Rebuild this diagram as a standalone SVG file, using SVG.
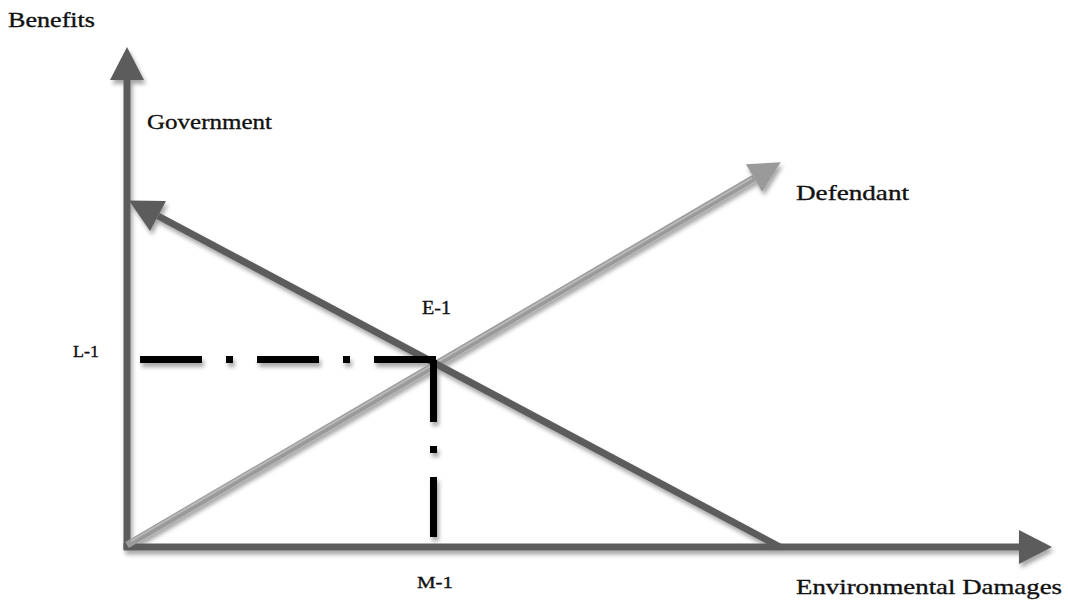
<svg xmlns="http://www.w3.org/2000/svg" width="1068" height="601" viewBox="0 0 1068 601">
  <style>
    .lbl { font-family: "Liberation Serif", "DejaVu Serif", serif; fill: #111; stroke: #111; stroke-width: 0.35; }
    .axis { stroke: #5c5c5c; stroke-width: 7; fill: none; }
    .gov { stroke: #5c5c5c; stroke-width: 7; fill: none; }
    .def { stroke: #9a9a9a; stroke-width: 7; fill: none; }
    .def-hi { stroke: #b9b9b9; stroke-width: 2; fill: none; }
    .guide { stroke: #000; stroke-width: 7; fill: none; stroke-dasharray: 62 24 7 24; }
  </style>
  <defs>
    <filter id="shadow" x="-10%" y="-10%" width="120%" height="130%">
      <feDropShadow dx="2" dy="4" stdDeviation="2" flood-color="#000" flood-opacity="0.35"/>
    </filter>
    <marker id="headDark" markerUnits="userSpaceOnUse" viewBox="0 0 33 34" refX="0" refY="17" markerWidth="33" markerHeight="34" orient="auto" overflow="visible">
      <path d="M0,0 L33,17 L0,34 Z" fill="#5c5c5c"/>
    </marker>
    <marker id="headLight" markerUnits="userSpaceOnUse" viewBox="0 0 31 32" refX="0" refY="16" markerWidth="31" markerHeight="32" orient="auto" overflow="visible">
      <path d="M0,0 L31,16 L0,32 Z" fill="#9a9a9a"/>
    </marker>
  </defs>

  <rect width="1068" height="601" fill="#fff"/>

  <g id="connectors" filter="url(#shadow)">
    <!-- axes -->
    <line id="y-axis" class="axis" x1="127" y1="549" x2="127" y2="80" marker-end="url(#headDark)"/>
    <line id="x-axis" class="axis" x1="123.5" y1="547" x2="1019" y2="547" marker-end="url(#headDark)"/>
    <!-- defendant curve -->
    <line id="defendant-line" class="def" x1="127" y1="545" x2="754" y2="178" marker-end="url(#headLight)"/>
    <line class="def-hi" x1="131" y1="541" x2="752" y2="178"/>
    <!-- government curve -->
    <line id="government-line" class="gov" x1="780" y1="547" x2="158" y2="216" marker-end="url(#headDark)"/>
    <!-- equilibrium guides -->
    <line id="guide-l1" class="guide" x1="140" y1="359.5" x2="436" y2="359.5"/>
    <line id="guide-m1" class="guide" x1="433.5" y1="360" x2="433.5" y2="537"/>
  </g>

  <g id="benefits-label"><text class="lbl" x="8" y="27" font-size="21" textLength="87" lengthAdjust="spacingAndGlyphs">Benefits</text></g>
  <g id="government-label"><text class="lbl" x="147" y="129" font-size="22" textLength="125" lengthAdjust="spacingAndGlyphs">Government</text></g>
  <g id="defendant-label"><text class="lbl" x="796" y="200" font-size="22" textLength="113" lengthAdjust="spacingAndGlyphs">Defendant</text></g>
  <g id="e1-label"><text class="lbl" x="422" y="314" font-size="19" textLength="29" lengthAdjust="spacingAndGlyphs">E-1</text></g>
  <g id="l1-label"><text class="lbl" x="73" y="357" font-size="17" textLength="26" lengthAdjust="spacingAndGlyphs">L-1</text></g>
  <g id="m1-label"><text class="lbl" x="417" y="588" font-size="17" textLength="36" lengthAdjust="spacingAndGlyphs">M-1</text></g>
  <g id="damages-label"><text class="lbl" x="796" y="594" font-size="22" textLength="266" lengthAdjust="spacingAndGlyphs">Environmental Damages</text></g>
</svg>
